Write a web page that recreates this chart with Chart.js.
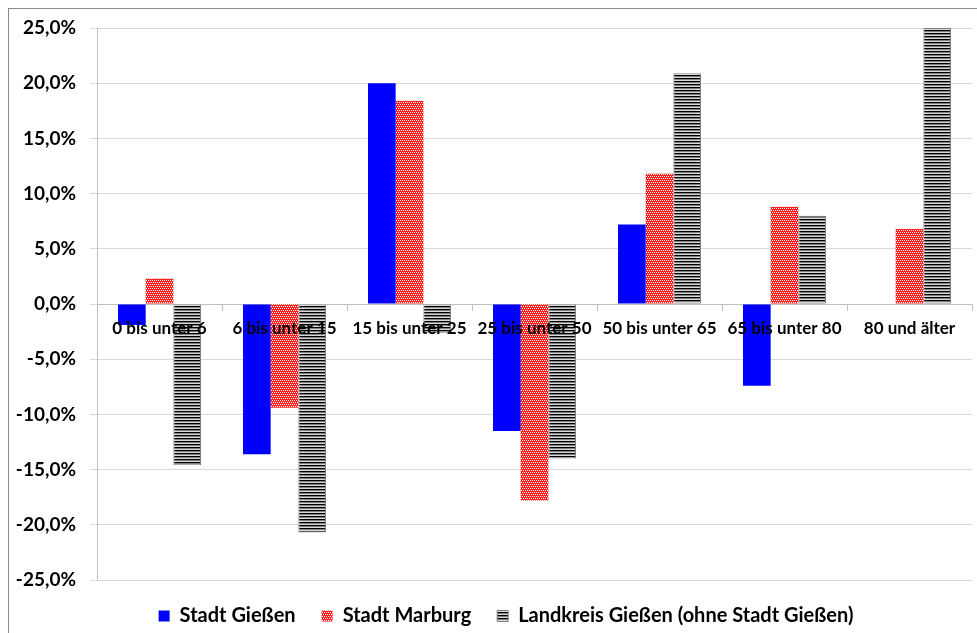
<!DOCTYPE html>
<html lang="de">
<head>
<meta charset="utf-8">
<title>Bevölkerungsveränderung nach Altersgruppen</title>
<script src="https://cdn.jsdelivr.net/npm/chart.js@4.4.1/dist/chart.umd.min.js"></script>
<style>
  html, body { margin: 0; padding: 0; background: #fff; overflow: hidden; }
  #wrap { position: relative; width: 977px; height: 633px; overflow: hidden; }
  #rahmen { position: absolute; left: 8px; top: 8px; width: 1000px; height: 700px; border: 1px solid #8c8c8c; }
  #chartAlter { position: absolute; left: 0; top: 0; }
</style>
</head>
<body>
<div id="wrap">
  <div id="rahmen"></div>
  <canvas id="chartAlter" width="977" height="633"></canvas>
</div>
<script>
// Veränderung in Prozent je Altersgruppe
const altersgruppen = ['0 bis unter 6', '6 bis unter 15', '15 bis unter 25', '25 bis unter 50', '50 bis unter 65', '65 bis unter 80', '80 und älter']
const stadtGiessen = [-1.9, -13.6, 20.0, -11.5, 7.2, -7.4, null]
const stadtMarburg = [2.3, -9.4, 18.4, -17.8, 11.8, 8.8, 6.8]
const landkreisGiessen = [-14.6, -20.7, -2.6, -14.0, 20.9, 8.0, 25.0]
const yTicks = [-25, -20, -15, -10, -5, 0, 5, 10, 15, 20, 25]

const canvas = document.getElementById('chartAlter')
const ctxMain = canvas.getContext('2d')

Chart.defaults.font.family = 'Lato'
Chart.defaults.color = '#000'

const formatProzent = (v) => v.toFixed(1).replace('.', ',') + '%'

// breiteste Y-Beschriftung, damit die gespiegelten Ticks rechtsbündig vor der Achse stehen
ctxMain.font = 'bold 19px Lato'
const yLabelBreite = Math.max(...yTicks.map(v => ctxMain.measureText(formatProzent(v)).width))

// Füllmuster wie in Excel: Punkte (rot) und schmale Querstreifen (schwarz)
function musterKaro() {
    const tile = document.createElement('canvas')
    tile.width = 4
    tile.height = 4
    const c = tile.getContext('2d')
    c.fillStyle = '#ff1f1f'
    c.fillRect(0, 0, 4, 4)
    c.fillStyle = '#ffffff'
    c.fillRect(0, 0, 1, 1)
    c.fillRect(2, 0, 1, 1)
    c.fillRect(1, 2, 1, 1)
    c.fillRect(3, 2, 1, 1)
    return ctxMain.createPattern(tile, 'repeat')
}

function musterStreifen() {
    const tile = document.createElement('canvas')
    tile.width = 4
    tile.height = 3
    const c = tile.getContext('2d')
    c.fillStyle = '#000000'
    c.fillRect(0, 0, 4, 1)
    c.fillStyle = '#808080'
    c.fillRect(0, 1, 4, 1)
    c.fillStyle = '#d8d8d8'
    c.fillRect(0, 2, 4, 1)
    return ctxMain.createPattern(tile, 'repeat')
}

const data = {
    labels: altersgruppen,
    datasets: [{
            label: 'Stadt Gießen',
            data: stadtGiessen,
            backgroundColor: '#0000ff',
        },
        {
            label: 'Stadt Marburg',
            data: stadtMarburg,
            backgroundColor: musterKaro(),
        },
        {
            label: 'Landkreis Gießen (ohne Stadt Gießen)',
            data: landkreisGiessen,
            backgroundColor: musterStreifen(),
            borderColor: '#808080',
            borderWidth: 1,
        }
    ]
}

const config = {
    type: 'bar',
    data: data,
    options: {
        responsive: false,
        animation: false,
        datasets: {
            bar: {
                categoryPercentage: 0.664,
                barPercentage: 1,
            }
        },
        layout: {
            padding: { left: 40, right: 5, top: 28, bottom: -3 }
        },
        plugins: {
            legend: {
                position: 'bottom',
                labels: {
                    boxWidth: 11,
                    boxHeight: 11,
                    padding: 26,
                    color: '#000',
                    font: { size: 20, weight: 'bold' }
                }
            },
            tooltip: { enabled: false }
        },
        scales: {
            x: {
                position: { y: 0 },
                grid: {
                    drawOnChartArea: false,
                    tickLength: 6,
                    color: '#bfbfbf'
                },
                border: { color: '#bfbfbf' },
                ticks: {
                    z: 1,
                    maxRotation: 0,
                    autoSkip: false,
                    padding: 8,
                    color: '#000',
                    font: { size: 17, weight: 'bold' }
                }
            },
            y: {
                min: -25,
                max: 25,
                afterBuildTicks: (scale) => {
                    scale.ticks = yTicks.map(v => ({ value: v }))
                },
                afterFit: (scale) => {
                    scale.width = 57
                },
                grid: {
                    color: '#d9d9d9',
                    tickLength: 7
                },
                border: { color: '#bfbfbf' },
                ticks: {
                    mirror: true,
                    crossAlign: 'far',
                    padding: -21 - yLabelBreite,
                    color: '#000',
                    callback: formatProzent,
                    font: { size: 19, weight: 'bold' }
                }
            }
        }
    }
}

new Chart(canvas, config)
</script>
</body>
</html>
